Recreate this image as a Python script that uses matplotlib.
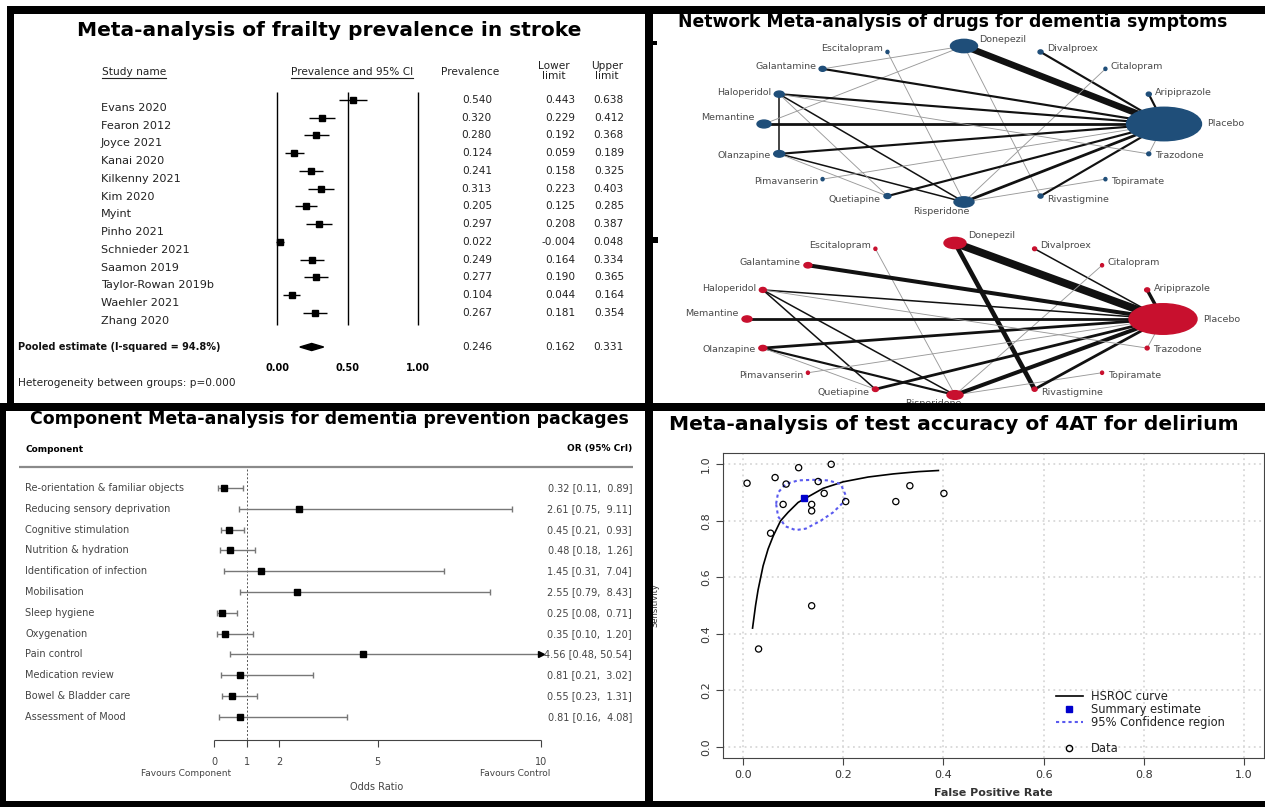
import numpy as np
import matplotlib
matplotlib.use("Agg")
import matplotlib.pyplot as plt
from matplotlib.patches import Rectangle, Ellipse, Polygon
from matplotlib.lines import Line2D

plt.rcParams['font.family'] = ['DejaVu Sans']

W, H = 1265, 807

# --- Frailty prevalence in stroke (forest plot)
studies = ["Evans 2020", "Fearon 2012", "Joyce 2021", "Kanai 2020", "Kilkenny 2021",
           "Kim 2020", "Myint", "Pinho 2021", "Schnieder 2021", "Saamon 2019",
           "Taylor-Rowan 2019b", "Waehler 2021", "Zhang 2020"]
prev = [0.540, 0.320, 0.280, 0.124, 0.241, 0.313, 0.205, 0.297, 0.022, 0.249, 0.277, 0.104, 0.267]
prev_lo = [0.443, 0.229, 0.192, 0.059, 0.158, 0.223, 0.125, 0.208, -0.004, 0.164, 0.190, 0.044, 0.181]
prev_hi = [0.638, 0.412, 0.368, 0.189, 0.325, 0.403, 0.285, 0.387, 0.048, 0.334, 0.365, 0.164, 0.354]
pooled = [0.246, 0.162, 0.331]
i_squared = 94.8
prev_ticks = [0.0, 0.5, 1.0]

# --- Component meta-analysis
components = ["Re-orientation & familiar objects", "Reducing sensory deprivation",
              "Cognitive stimulation", "Nutrition & hydration", "Identification of infection",
              "Mobilisation", "Sleep hygiene", "Oxygenation", "Pain control",
              "Medication review", "Bowel & Bladder care", "Assessment of Mood"]
or_est = [0.32, 2.61, 0.45, 0.48, 1.45, 2.55, 0.25, 0.35, 4.56, 0.81, 0.55, 0.81]
or_lo = [0.11, 0.75, 0.21, 0.18, 0.31, 0.79, 0.08, 0.10, 0.48, 0.21, 0.23, 0.16]
or_hi = [0.89, 9.11, 0.93, 1.26, 7.04, 8.43, 0.71, 1.20, 50.54, 3.02, 1.31, 4.08]
or_ticks = [0, 1, 2, 5, 10]

# --- Network meta-analysis (two networks, same nodes)
drugs = ["Donepezil", "Divalproex", "Citalopram", "Aripiprazole", "Placebo", "Trazodone",
         "Topiramate", "Rivastigmine", "Risperidone", "Quetiapine", "Pimavanserin",
         "Olanzapine", "Memantine", "Haloperidol", "Galantamine", "Escitalopram"]
blue_size = [27, 5, 3, 5, 75, 4, 3, 5, 20, 7, 3, 11, 14, 10, 7, 3]
red_size = [22, 4, 3, 5, 68, 4, 3, 5, 16, 6, 3, 8, 10, 7, 8, 3]
blue_edges = [("Donepezil", "Placebo", 10), ("Divalproex", "Placebo", 3),
              ("Citalopram", "Risperidone", 1), ("Aripiprazole", "Placebo", 3),
              ("Trazodone", "Placebo", 1), ("Topiramate", "Risperidone", 1),
              ("Rivastigmine", "Placebo", 3), ("Rivastigmine", "Donepezil", 1),
              ("Risperidone", "Placebo", 4), ("Risperidone", "Escitalopram", 1),
              ("Risperidone", "Haloperidol", 2), ("Risperidone", "Olanzapine", 2),
              ("Quetiapine", "Placebo", 3), ("Quetiapine", "Haloperidol", 1),
              ("Quetiapine", "Olanzapine", 1), ("Pimavanserin", "Placebo", 1),
              ("Olanzapine", "Placebo", 3), ("Olanzapine", "Haloperidol", 2),
              ("Memantine", "Placebo", 4), ("Memantine", "Donepezil", 1),
              ("Haloperidol", "Placebo", 3), ("Haloperidol", "Trazodone", 1),
              ("Galantamine", "Placebo", 3), ("Galantamine", "Donepezil", 1)]
red_edges = [("Donepezil", "Placebo", 12), ("Donepezil", "Rivastigmine", 7),
             ("Divalproex", "Placebo", 2), ("Citalopram", "Risperidone", 1),
             ("Aripiprazole", "Placebo", 5), ("Trazodone", "Placebo", 1),
             ("Topiramate", "Risperidone", 1), ("Rivastigmine", "Placebo", 4),
             ("Risperidone", "Placebo", 6), ("Risperidone", "Escitalopram", 1),
             ("Risperidone", "Haloperidol", 2), ("Risperidone", "Olanzapine", 3),
             ("Quetiapine", "Placebo", 4), ("Quetiapine", "Haloperidol", 2),
             ("Quetiapine", "Olanzapine", 1), ("Pimavanserin", "Placebo", 1),
             ("Olanzapine", "Placebo", 4), ("Memantine", "Placebo", 4),
             ("Haloperidol", "Placebo", 2), ("Haloperidol", "Trazodone", 1),
             ("Galantamine", "Placebo", 6)]

# --- 4AT test accuracy
fpr = [0.008, 0.031, 0.055, 0.064, 0.080, 0.086, 0.111, 0.137, 0.137, 0.137,
       0.150, 0.162, 0.176, 0.205, 0.305, 0.333, 0.401]
sens = [0.933, 0.346, 0.756, 0.953, 0.858, 0.930, 0.988, 0.858, 0.835, 0.499,
        0.939, 0.897, 1.000, 0.868, 0.868, 0.924, 0.897]
summary_pt = [0.121, 0.880]
hsroc_fpr = [0.019, 0.025, 0.030, 0.040, 0.050, 0.060, 0.075, 0.090, 0.110, 0.130,
             0.160, 0.200, 0.250, 0.300, 0.350, 0.390]
hsroc_sens = [0.42, 0.50, 0.555, 0.64, 0.70, 0.745, 0.80, 0.83, 0.865, 0.885,
              0.915, 0.938, 0.955, 0.966, 0.974, 0.978]
region_fpr = [0.066, 0.070, 0.085, 0.110, 0.140, 0.170, 0.195, 0.205, 0.200, 0.180,
              0.155, 0.125, 0.105, 0.085, 0.070, 0.066]
region_sens = [0.860, 0.900, 0.930, 0.943, 0.945, 0.943, 0.930, 0.890, 0.865, 0.830,
               0.800, 0.772, 0.767, 0.780, 0.815, 0.860]

fig = plt.figure(figsize=(W / 100, H / 100), dpi=100)


def box(x0, y0, x1, y1):
    return [x0 / W, 1 - y1 / H, (x1 - x0) / W, (y1 - y0) / H]


# ================= panel 1: frailty forest plot
ax1 = fig.add_axes(box(14, 14, 645, 403))
fx1 = lambda p: (p - 277) / 141.0
fy1 = lambda p: (p - 100) / 17.75
ax1.set_xlim(fx1(14), fx1(645))
ax1.set_ylim(fy1(403), fy1(14))
ax1.axis('off')

rows = np.arange(len(studies))
for t in prev_ticks:
    ax1.vlines(t, fy1(92), fy1(325), color='black', lw=1)
ax1.hlines(rows, prev_lo, prev_hi, color='black', lw=1)
ax1.plot(prev, rows, 's', color='black', ms=4)
rp = fy1(347)
ax1.add_patch(Polygon([(pooled[1], rp), (pooled[0], rp - 0.2), (pooled[2], rp), (pooled[0], rp + 0.2)],
                      closed=True, color='black'))

small = dict(fontsize=7.6, color='#222222', va='center')
h_study = ax1.text(fx1(102), fy1(72), "Study name", ha='left', **small)
h_ci = ax1.text(fx1(352), fy1(72), "Prevalence and 95% CI", ha='center', **small)
ax1.text(fx1(470), fy1(72), "Prevalence", ha='center', **small)
ax1.text(fx1(554), fy1(71), "Lower\nlimit", ha='center', linespacing=1.1, **small)
ax1.text(fx1(607), fy1(71), "Upper\nlimit", ha='center', linespacing=1.1, **small)
for i, name in enumerate(studies):
    ax1.text(fx1(101), rows[i] + 0.45, name, ha='left', va='center', fontsize=8.1, color='#222222')
    ax1.text(fx1(492), rows[i], f"{prev[i]:.3f}", ha='right', **small)
    ax1.text(fx1(575), rows[i], f"{prev_lo[i]:.3f}", ha='right', **small)
    ax1.text(fx1(624), rows[i], f"{prev_hi[i]:.3f}", ha='right', **small)
ax1.text(fx1(18), rp, f"Pooled estimate (I-squared = {i_squared}%)", ha='left', va='center',
         fontsize=7, fontweight='bold', color='#111111')
ax1.text(fx1(492), rp, f"{pooled[0]:.3f}", ha='right', **small)
ax1.text(fx1(575), rp, f"{pooled[1]:.3f}", ha='right', **small)
ax1.text(fx1(624), rp, f"{pooled[2]:.3f}", ha='right', **small)
for t in prev_ticks:
    ax1.text(t, fy1(368), f"{t:.2f}", ha='center', va='center', fontsize=7, fontweight='bold')
ax1.text(fx1(18), fy1(383), "Heterogeneity between groups: p=0.000", ha='left', **small)

t1 = fig.text(329 / W, 1 - 31 / H, "Meta-analysis of frailty prevalence in stroke",
              ha='center', va='center', fontsize=14, fontweight='bold')

# ================= panel 2: networks
theta = np.deg2rad(90 - 22.5 * np.arange(len(drugs)))
nx, ny = np.cos(theta), np.sin(theta)


def draw_network(ax, sizes, edges, color, sx, sy):
    pos = {d: (nx[k], ny[k]) for k, d in enumerate(drugs)}
    for a, b, w in edges:
        (x0, y0), (x1, y1) = pos[a], pos[b]
        col = '#111111' if w >= 2 else '#9a9a9a'
        ax.plot([x0, x1], [y0, y1], color=col, lw=0.45 * w + 0.2,
                solid_capstyle='butt', zorder=1)
    for k, d in enumerate(drugs):
        s = sizes[k]
        ax.add_patch(Ellipse((nx[k], ny[k]), s / sx, (0.42 * s + 2) / sy, color=color, zorder=2))
        if k == 0:
            ha, dx, dy = 'left', s / 2 + 2, 7
        elif k == 8:
            ha, dx, dy = 'right', 6, -9
        elif k < 8:
            ha, dx, dy = 'left', s / 2 + 4, 4 * ny[k]
        else:
            ha, dx, dy = 'right', -(s / 2 + 3), 4 * ny[k]
        if d == 'Memantine':
            dy = 6
        if d == 'Placebo':
            dx = s / 2 + 6
        ax.annotate(d, (nx[k], ny[k]), xytext=(dx, dy), textcoords='offset pixels',
                    ha=ha, va='center', fontsize=6.8, color='#4a4a4a', zorder=3)


ax2a = fig.add_axes(box(653, 13, 1265, 214))
ax2a.set_xlim((653 - 964) / 200, (1265 - 964) / 200)
ax2a.set_ylim((124 - 214) / 78, (124 - 13) / 78)
ax2a.axis('off')
draw_network(ax2a, blue_size, blue_edges, '#1f4e79', 200, 78)

ax2b = fig.add_axes(box(653, 214, 1265, 403))
ax2b.set_xlim((653 - 955) / 208, (1265 - 955) / 208)
ax2b.set_ylim((319 - 403) / 76, (319 - 214) / 76)
ax2b.axis('off')
draw_network(ax2b, red_size, red_edges, '#c8102e', 208, 76)

t2 = fig.text(953 / W, 1 - 22 / H, "Network Meta-analysis of drugs for dementia symptoms",
              ha='center', va='center', fontsize=14, fontweight='bold')

# ================= panel 3: component forest plot
ax3 = fig.add_axes(box(6, 411, 645, 800))
fx3 = lambda p: (p - 214) / 32.7
fy3 = lambda p: (p - 488) / 20.8
ax3.set_xlim(fx3(6), fx3(645))
ax3.set_ylim(fy3(800), fy3(411))
ax3.axis('off')

rows3 = np.arange(len(components))
hi_clip = np.minimum(or_hi, or_ticks[-1])
ax3.text(fx3(25), fy3(449), "Component", ha='left', va='center', fontsize=6.5, fontweight='bold')
ax3.text(fx3(632), fy3(449), "OR (95% CrI)", ha='right', va='center', fontsize=6.5, fontweight='bold')
ax3.hlines(fy3(467), fx3(19), fx3(633), color='#8a8a8a', lw=1.6)
ax3.vlines(1, fy3(469), fy3(740), color='#555555', ls=(0, (2, 2)), lw=0.7)
ax3.hlines(rows3, or_lo, hi_clip, color='#777777', lw=1)
ax3.vlines(or_lo, rows3 - 0.14, rows3 + 0.14, color='#777777', lw=1)
capped = [i for i in rows3 if or_hi[i] <= or_ticks[-1]]
ax3.vlines([or_hi[i] for i in capped], np.array(capped) - 0.14, np.array(capped) + 0.14,
           color='#777777', lw=1)
arrows = [i for i in rows3 if or_hi[i] > or_ticks[-1]]
ax3.plot(hi_clip[arrows], rows3[arrows], '>', color='black', ms=4.5)
ax3.plot(or_est, rows3, 's', color='black', ms=4.5)
for i, c in enumerate(components):
    ax3.text(fx3(25), rows3[i], c, ha='left', va='center', fontsize=7, color='#444444')
    ax3.text(fx3(632), rows3[i], f"{or_est[i]:.2f} [{or_lo[i]:.2f}, {or_hi[i]:5.2f}]",
             ha='right', va='center', fontsize=7, color='#444444')
ya = fy3(740)
ax3.hlines(ya, or_ticks[0], or_ticks[-1], color='#444444', lw=0.8)
ax3.vlines(or_ticks, ya, fy3(747), color='#444444', lw=0.8)
for t in or_ticks:
    ax3.text(t, fy3(762), str(t), ha='center', va='center', fontsize=7, color='#444444')
ax3.text(fx3(186), fy3(773), "Favours Component", ha='center', va='center', fontsize=6.5, color='#444444')
ax3.text(fx3(515), fy3(773), "Favours Control", ha='center', va='center', fontsize=6.5, color='#444444')
ax3.text(fx3(377), fy3(787), "Odds Ratio", ha='center', va='center', fontsize=7, color='#444444')

t3 = fig.text(329 / W, 1 - 419.5 / H, "Component Meta-analysis for dementia prevention packages",
              ha='center', va='center', fontsize=14, fontweight='bold')

# ================= panel 4: SROC
ax4 = fig.add_axes(box(723, 453, 1264, 758))
ax4.set_xlim(-0.04, 1.04)
ax4.set_ylim(-0.04, 1.04)
ticks4 = np.round(np.arange(0, 1.01, 0.2), 1)
ax4.set_xticks(ticks4)
ax4.set_yticks(ticks4)
ax4.set_xticklabels([f"{t:.1f}" for t in ticks4])
ax4.set_yticklabels([f"{t:.1f}" for t in ticks4], rotation=90, va='center')
ax4.tick_params(labelsize=8, labelcolor='#333333', color='#444444', length=5, width=0.8)
ax4.grid(True, color='#d8d8d8', ls=(0, (1, 2)), lw=1.3)
ax4.set_axisbelow(True)
for s in ax4.spines.values():
    s.set_color('#444444')
    s.set_linewidth(0.8)
ax4.plot(hsroc_fpr, hsroc_sens, color='black', lw=1.2)
ax4.plot(region_fpr, region_sens, color='#5a5aef', ls=(0, (1.5, 1.5)), lw=1.5)
ax4.scatter(fpr, sens, facecolors='none', edgecolors='black', s=20, lw=0.9, zorder=3)
ax4.plot(summary_pt[0], summary_pt[1], 's', color='#0000cc', ms=4, zorder=4)
handles = [Line2D([], [], color='black', lw=1.2),
           Line2D([], [], ls='', marker='s', color='#0000cc', ms=4),
           Line2D([], [], color='#5a5aef', ls=(0, (1.5, 1.5)), lw=1.5),
           Line2D([], [], ls='', marker=''),
           Line2D([], [], ls='', marker='o', mfc='none', mec='black', ms=4.5)]
ax4.legend(handles, ["HSROC curve", "Summary estimate", "95% Confidence region", "", "Data"],
           loc='lower left', bbox_to_anchor=(0.607, -0.005), frameon=False, fontsize=8.3,
           handlelength=2.3, handletextpad=0.7, labelspacing=0.0, labelcolor='#222222',
           borderaxespad=0)
ax4.set_ylabel("Sensitivity", fontsize=6, color='#333333')
ax4.yaxis.set_label_coords((660 - 723) / 541, 0.5)
ax4.set_xlabel("False Positive Rate", fontsize=8, fontweight='bold', color='#333333')
ax4.xaxis.set_label_coords(0.499, -0.098)

t4 = fig.text(954 / W, 1 - 425 / H, "Meta-analysis of test accuracy of 4AT for delirium",
              ha='center', va='center', fontsize=14, fontweight='bold')

# fit titles to the widths seen in the picture and underline the headers
fig.canvas.draw()
renderer = fig.canvas.get_renderer()
for t, target in [(t1, 504), (t2, 550), (t3, 598), (t4, 572)]:
    bb = t.get_window_extent(renderer)
    t.set_fontsize(t.get_fontsize() * target / bb.width)
for t in [h_study, h_ci]:
    bb = t.get_window_extent(renderer)
    fig.add_artist(Line2D([bb.x0 / W, bb.x1 / W], [(bb.y0 - 1) / H] * 2, color='#222222', lw=0.8))

# black panel frame
for x0, y0, x1, y1 in [(7, 6, 1265, 13.5), (7, 6, 14, 403), (0, 403, 6, 807),
                       (645, 6, 653, 807), (0, 403, 1265, 411), (0, 801, 1265, 807),
                       (653, 41, 657, 45), (653, 237, 658, 243)]:
    fig.add_artist(Rectangle((x0 / W, 1 - y1 / H), (x1 - x0) / W, (y1 - y0) / H,
                             transform=fig.transFigure, color='black', lw=0, zorder=10))

fig.savefig("out.png", dpi=100)
